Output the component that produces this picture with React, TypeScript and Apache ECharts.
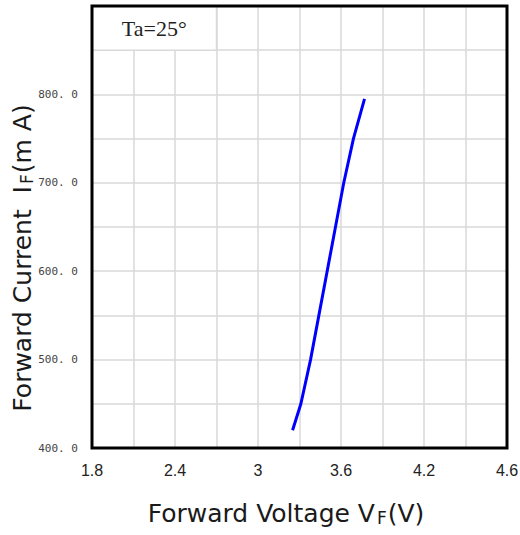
import React, { useEffect, useRef } from "react";
import * as echarts from "echarts";

const xLabels = ["1.8", "2.4", "3", "3.6", "4.2", "4.6"];
const yLabels = ["400. 0", "500. 0", "600. 0", "700. 0", "800. 0"];
const voltage = [3.25, 3.31, 3.38, 3.44, 3.5, 3.56, 3.62, 3.69, 3.77];
const current = [420, 450, 500, 550, 600, 650, 700, 750, 795];
const noteText = "Ta=25°";

const X_MIN = 1.8;
const X_MAX = 4.8;
const X_STEP = 0.3;
const Y_MIN = 400;
const Y_MAX = 900;
const Y_STEP = 50;

export default function App() {
  const ref = useRef<HTMLDivElement>(null);
  useEffect(() => {
    if (!ref.current) return;
    const chart = echarts.init(ref.current, null, { renderer: "svg" });
    const titleFont = "DejaVu Sans";
    const rich = {
      n: { fontSize: 25, fontFamily: titleFont, color: "#1a1a1a", verticalAlign: "bottom", lineHeight: 28 },
      s: { fontSize: 17, fontFamily: titleFont, color: "#1a1a1a", verticalAlign: "bottom", lineHeight: 24, padding: [0, 1, 0, 2] },
    };
    chart.setOption({
      animation: false,
      backgroundColor: "#ffffff",
      grid: {
        left: 92,
        right: 13,
        top: 6,
        bottom: 87,
        containLabel: false,
        outerBoundsMode: "none",
        show: true,
        z: 10,
        backgroundColor: "transparent",
        borderColor: "#000000",
        borderWidth: 3,
      },
      xAxis: {
        type: "value",
        min: X_MIN,
        max: X_MAX,
        interval: X_STEP,
        axisLine: { show: false },
        axisTick: { show: false },
        splitLine: { show: true, lineStyle: { color: "#d9d9d9", width: 1.5 } },
        axisLabel: {
          margin: 14,
          fontSize: 16,
          fontFamily: "Liberation Sans",
          color: "#222",
          formatter: (v: number) => {
            const i = Math.round((v - X_MIN) / X_STEP);
            return i % 2 === 0 ? xLabels[i / 2] ?? "" : "";
          },
        },
        name: "{n|Forward Voltage V}{s|F}{n|(V)}",
        nameLocation: "middle",
        nameGap: 50,
        nameMoveOverlap: false,
        nameTextStyle: {
          padding: [0, 27, 0, 0],
          rich,
        },
      },
      yAxis: {
        type: "value",
        min: Y_MIN,
        max: Y_MAX,
        interval: Y_STEP,
        axisLine: { show: false },
        axisTick: { show: false },
        splitLine: { show: true, lineStyle: { color: "#d9d9d9", width: 1.5 } },
        axisLabel: {
          margin: 14,
          fontSize: 11,
          fontFamily: "DejaVu Sans Mono",
          color: "#444",
          formatter: (v: number) => {
            const i = Math.round((v - Y_MIN) / Y_STEP);
            return i % 2 === 0 ? yLabels[i / 2] ?? "" : "";
          },
        },
        name: "{n|Forward Current  I}{s|F}{n|(m A)}",
        nameLocation: "middle",
        nameGap: 57,
        nameMoveOverlap: false,
        nameTextStyle: {
          padding: [0, 62, 0, 0],
          rich,
        },
      },
      series: [
        {
          type: "line",
          data: voltage.map((v, i) => [v, current[i]]),
          showSymbol: false,
          symbol: "none",
          lineStyle: { color: "#0000ff", width: 3 },
          z: 3,
          markArea: {
            silent: true,
            itemStyle: { color: "#ffffff", borderColor: "#d9d9d9", borderWidth: 1.5 },
            label: {
              show: true,
              position: "inside",
              fontSize: 22,
              fontFamily: "Liberation Serif",
              color: "#222",
            },
            data: [[{ name: noteText, coord: [1.8, 850] }, { coord: [2.7, 900] }]],
          },
        },
      ],
    });
    return () => chart.dispose();
  }, []);
  return (
    <div
      ref={ref}
      style={{ position: "fixed", left: 0, top: 0, width: 520, height: 535 }}
    />
  );
}
